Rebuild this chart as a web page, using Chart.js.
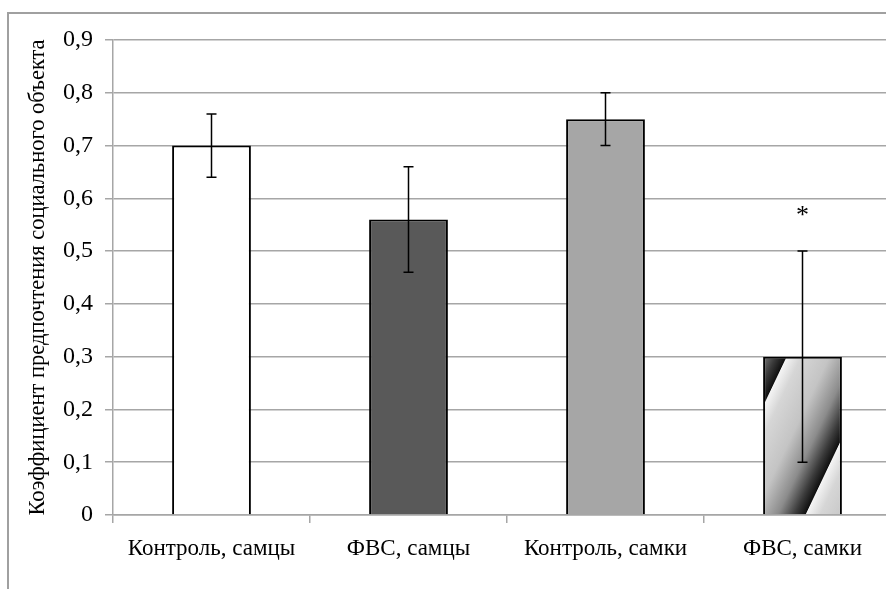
<!DOCTYPE html>
<html>
<head>
<meta charset="utf-8">
<script src="https://cdn.jsdelivr.net/npm/chart.js@4.4.1/dist/chart.umd.min.js"></script>
<style>
    html, body { margin: 0; padding: 0; background: #fff; overflow: hidden; }
    #frame {
        position: absolute; left: 7px; top: 12px;
        width: 1000px; height: 1000px;
        border: 2px solid #a0a0a0;
    }
    #wrap { position: absolute; left: 0; top: 0; width: 930px; height: 589px; }
</style>
</head>
<body>
<div id="frame"></div>
<div id="wrap"><canvas id="chart"></canvas></div>
<script>
    var categories = ['Контроль, самцы', 'ФВС, самцы', 'Контроль, самки', 'ФВС, самки'];
    var means = [0.70, 0.56, 0.75, 0.30];
    var errLow = [0.64, 0.46, 0.70, 0.10];
    var errHigh = [0.76, 0.66, 0.80, 0.50];
    var marks = ['', '', '', '*'];
    var yTickValues = [0, 0.1, 0.2, 0.3, 0.4, 0.5, 0.6, 0.7, 0.8, 0.9];

    var fills = ['#ffffff', '#595959', '#a6a6a6', null];
    var serif = 'Liberation Serif';

    // diagonal sawtooth gradient for the patterned bar
    function stripeFill(ctx) {
        var chart = ctx.chart;
        if (ctx.dataIndex !== 3) return fills[ctx.dataIndex];
        if (!chart.chartArea) return '#c0c0c0';
        var xs = chart.scales.x, ys = chart.scales.y;
        var bw = (xs.width / categories.length) * 0.4;
        var ex = xs.getPixelForValue(3) - bw / 2 + 24;
        var ey = ys.getPixelForValue(means[3]);
        var ux = 0.903, uy = 0.43, p = 85;
        var g = chart.ctx.createLinearGradient(ex - ux * p, ey - uy * p, ex + ux * p * 2, ey + uy * p * 2);
        for (var k = 0; k < 3; k++) {
            var o = k / 3;
            g.addColorStop(o + 0.0001, '#f4f4f4');
            g.addColorStop(o + 0.15 / 3, '#d6d6d6');
            g.addColorStop(o + 0.45 / 3, '#c4c4c4');
            g.addColorStop(o + 0.7 / 3, '#8c8c8c');
            g.addColorStop(o + 0.88 / 3, '#3a3a3a');
            g.addColorStop(o + 0.99 / 3, '#101010');
        }
        g.addColorStop(1, '#101010');
        return g;
    }

    var errorBars = {
        id: 'errorBars',
        afterDatasetsDraw: function (chart) {
            var c = chart.ctx, xs = chart.scales.x, ys = chart.scales.y;
            c.save();
            c.strokeStyle = '#000';
            c.lineWidth = 1.5;
            for (var i = 0; i < means.length; i++) {
                var x = xs.getPixelForValue(i);
                var yl = ys.getPixelForValue(errLow[i]);
                var yh = ys.getPixelForValue(errHigh[i]);
                c.beginPath();
                c.moveTo(x, yl); c.lineTo(x, yh);
                c.moveTo(x - 5, yl); c.lineTo(x + 5, yl);
                c.moveTo(x - 5, yh); c.lineTo(x + 5, yh);
                c.stroke();
                if (marks[i]) {
                    c.fillStyle = '#000';
                    c.font = '26px "' + serif + '"';
                    c.textAlign = 'center';
                    c.textBaseline = 'alphabetic';
                    c.fillText(marks[i], x, yh - 28);
                }
            }
            c.restore();
        }
    };

    new Chart(document.getElementById('chart'), {
        type: 'bar',
        data: {
            labels: categories,
            datasets: [{
                data: means,
                backgroundColor: stripeFill,
                borderColor: '#000',
                borderWidth: 2,
                barPercentage: 0.4,
                categoryPercentage: 1
            }]
        },
        options: {
            responsive: true,
            maintainAspectRatio: false,
            animation: false,
            layout: { padding: { top: 40, right: 29, bottom: 0, left: 0 } },
            plugins: { legend: { display: false }, tooltip: { enabled: false } },
            scales: {
                x: {
                    afterFit: function (s) { s.height = 74; },
                    grid: { drawOnChartArea: false, drawTicks: true, tickLength: 8, color: '#a6a6a6', lineWidth: 1.5 },
                    border: { color: '#a6a6a6', width: 1.5 },
                    ticks: { color: '#000', padding: 12, font: { family: serif, size: 23 } }
                },
                y: {
                    min: 0,
                    max: 0.9,
                    afterFit: function (s) { s.width = 113; },
                    afterBuildTicks: function (s) {
                        s.ticks = yTickValues.map(function (v) { return { value: v }; });
                    },
                    grid: { color: '#a6a6a6', lineWidth: 1.5, tickLength: 8 },
                    border: { color: '#a6a6a6', width: 1.5 },
                    ticks: {
                        color: '#000',
                        padding: 12,
                        font: { family: serif, size: 24 },
                        callback: function (v) {
                            return v === 0 ? '0' : v.toFixed(1).replace('.', ',');
                        }
                    },
                    title: {
                        display: true,
                        text: 'Коэффициент предпочтения социального объекта',
                        color: '#000',
                        font: { family: serif, size: 22.5 },
                        padding: { top: 25, bottom: 0 }
                    }
                }
            }
        },
        plugins: [errorBars]
    });
</script>
</body>
</html>
